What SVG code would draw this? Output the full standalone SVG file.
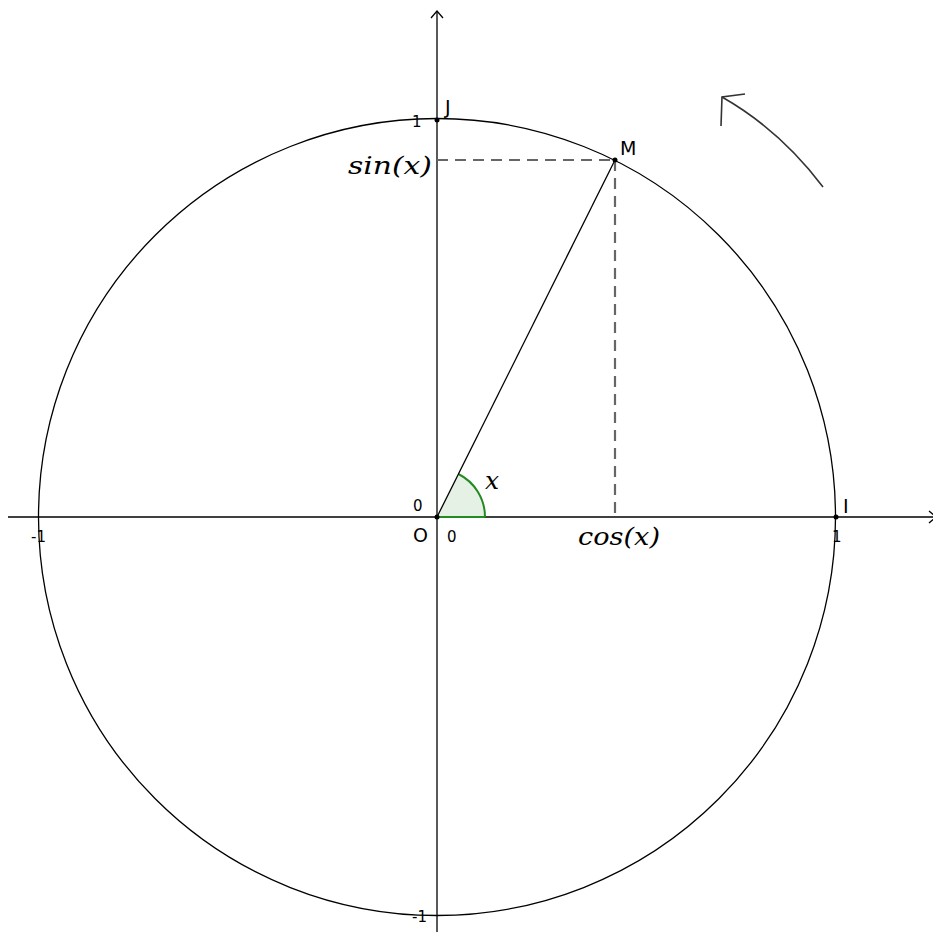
<svg xmlns="http://www.w3.org/2000/svg" width="933" height="932" viewBox="0 0 933 932">
<style>
.ax{stroke:#000;stroke-width:1.3;fill:none}
.lab{font-family:"DejaVu Sans",sans-serif;font-size:15px;fill:#000}
.pt{font-family:"DejaVu Sans",sans-serif;font-size:19px;fill:#000}
.math{font-family:"DejaVu Serif","Liberation Serif",serif;font-style:italic;font-size:25px;fill:#000}
.dash{stroke:#666;stroke-width:2.2;stroke-dasharray:11,7;fill:none}
</style>
<rect width="933" height="932" fill="#fff"/>
<g id="axes">
<line class="ax" x1="437" y1="932" x2="437" y2="11"/>
<polyline class="ax" points="431,18 437,11 443,18"/>
<line class="ax" x1="8" y1="517" x2="936" y2="517"/>
<polyline class="ax" points="929,511 936,517 929,523"/>
</g>
<g id="circle"><circle cx="437" cy="517" r="398.5" class="ax"/></g>
<g id="angle">
<path d="M437,517 L485,517 A48,48 0 0 0 458.4,474 Z" fill="#2e8b2e" fill-opacity="0.12" stroke="none"/>
<path d="M485,517 A48,48 0 0 0 458.4,474" stroke="#228b22" stroke-width="2" fill="none"/>
<line x1="437" y1="517" x2="485" y2="517" stroke="#228b22" stroke-width="2"/>
<text class="math" x="485" y="489" font-size="22">x</text>
</g>
<g id="connectors">
<line class="ax" x1="437" y1="517" x2="615" y2="160"/>
<line class="dash" x1="437" y1="160" x2="615" y2="160"/>
<line class="dash" x1="615" y1="160" x2="615" y2="517"/>
<path d="M823,187 Q780,130 722,97" stroke="#333" stroke-width="1.6" fill="none"/>
<polyline points="721,126 722,97 745,94" stroke="#333" stroke-width="1.6" fill="none"/>
</g>
<g id="O"><circle cx="437" cy="517" r="2.5"/><text class="pt" x="413" y="542">O</text></g>
<g id="J"><circle cx="437" cy="120" r="2.5"/><text class="pt" x="445" y="114">J</text></g>
<g id="I"><circle cx="836" cy="517" r="2.5"/><text class="pt" x="843" y="513">I</text></g>
<g id="M"><circle cx="615" cy="160" r="2.5"/><text class="pt" x="620" y="155">M</text></g>
<g id="labels">
<text class="math" x="348" y="174" textLength="84" lengthAdjust="spacingAndGlyphs">sin(x)</text>
<text class="math" x="578" y="545" textLength="82" lengthAdjust="spacingAndGlyphs">cos(x)</text>
<text class="lab" x="412" y="127">1</text>
<text class="lab" x="413" y="511">0</text>
<text class="lab" x="447" y="542">0</text>
<text class="lab" x="31" y="542">-1</text>
<text class="lab" x="832" y="542">1</text>
<text class="lab" x="412" y="922">-1</text>
</g>
</svg>
